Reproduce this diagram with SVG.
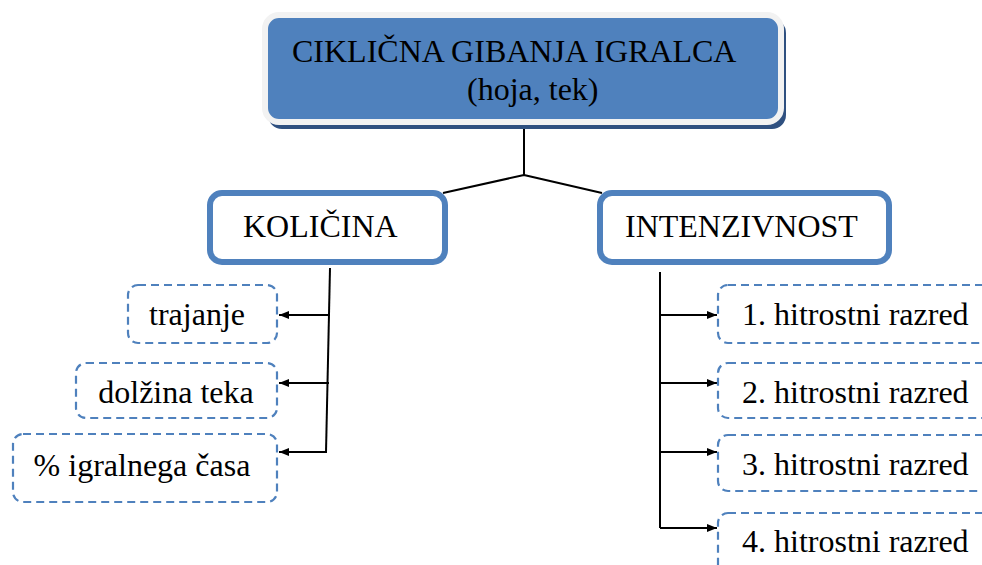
<svg xmlns="http://www.w3.org/2000/svg" width="982" height="565" viewBox="0 0 982 565">
<defs>
<marker id="arr" markerWidth="10" markerHeight="8" refX="10" refY="4" orient="auto" markerUnits="userSpaceOnUse">
<path d="M0,0 L10,4 L0,8 Z" fill="#000"/>
</marker>
</defs>
<style>
text{font-family:"Liberation Serif","Times New Roman",serif;font-size:32px;fill:#000}
.main{fill:#4F81BD;stroke:#F2F2F2;stroke-width:6}
.shadow{fill:#2F5080}
.cat{fill:#fff;stroke:#4F81BD;stroke-width:6}
.leaf{fill:#fff;stroke:#4F81BD;stroke-width:2.2;stroke-dasharray:8,5}
.con{fill:none;stroke:#000;stroke-width:2}
.arr{fill:none;stroke:#000;stroke-width:2;marker-end:url(#arr)}
</style>
<g id="connectors">
<path class="con" d="M524,128 L524,175 M524,175 L443,193 M524,175 L602,193"/>
<path class="con" d="M330,268 L326,452"/>
<path class="arr" d="M330,315 L279,315"/>
<path class="arr" d="M329,383 L279,383"/>
<path class="arr" d="M327,452 L279,452"/>
<path class="con" d="M660,272 L660,528"/>
<path class="arr" d="M660,315 L717,315"/>
<path class="arr" d="M660,383 L717,383"/>
<path class="arr" d="M660,452 L717,452"/>
<path class="arr" d="M660,528 L717,528"/>
</g>
<g id="root">
<rect class="shadow" x="268" y="19" width="518" height="110" rx="14"/>
<rect class="main" x="265" y="15" width="516" height="107" rx="14"/>
<text x="292" y="62">CIKLIČNA GIBANJA IGRALCA</text>
<text x="467" y="100">(hoja, tek)</text>
</g>
<g id="kolicina">
<rect class="cat" x="210" y="193" width="235" height="69" rx="12"/>
<text x="243" y="237">KOLIČINA</text>
</g>
<g id="intenzivnost">
<rect class="cat" x="600" y="193" width="289" height="69" rx="12"/>
<text x="625" y="237">INTENZIVNOST</text>
</g>
<g id="trajanje">
<rect class="leaf" x="128" y="285" width="149" height="58" rx="10"/>
<text x="197" y="325" text-anchor="middle">trajanje</text>
</g>
<g id="dolzina">
<rect class="leaf" x="76" y="363" width="201" height="55" rx="10"/>
<text x="176" y="403" text-anchor="middle">dolžina teka</text>
</g>
<g id="igralni">
<rect class="leaf" x="13" y="434" width="264" height="68" rx="10"/>
<text x="142" y="476" text-anchor="middle">% igralnega časa</text>
</g>
<g id="razred1">
<rect class="leaf" x="718" y="285" width="280" height="58" rx="10"/>
<text x="742" y="325">1. hitrostni razred</text>
</g>
<g id="razred2">
<rect class="leaf" x="718" y="363" width="280" height="55" rx="10"/>
<text x="742" y="403">2. hitrostni razred</text>
</g>
<g id="razred3">
<rect class="leaf" x="718" y="435" width="280" height="56" rx="10"/>
<text x="742" y="475">3. hitrostni razred</text>
</g>
<g id="razred4">
<rect class="leaf" x="718" y="513" width="280" height="70" rx="10"/>
<text x="742" y="552">4. hitrostni razred</text>
</g>
</svg>
